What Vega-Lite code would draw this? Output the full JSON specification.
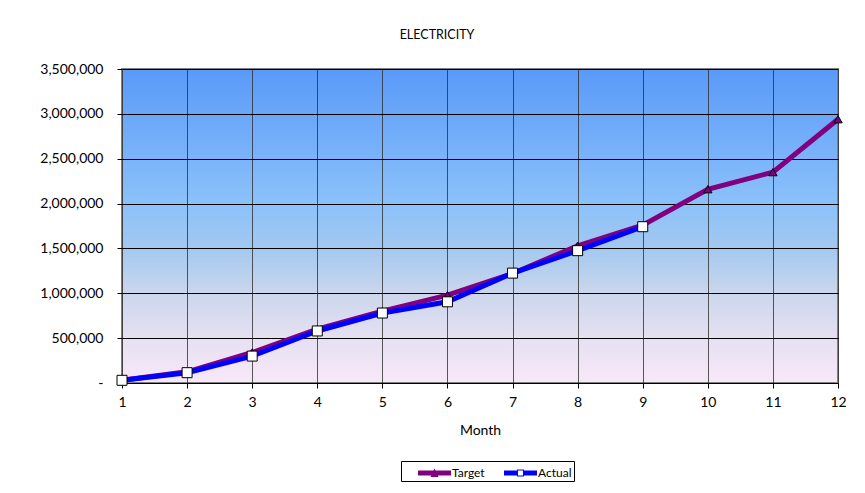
{
  "$schema": "https://vega.github.io/schema/vega-lite/v6.json",
  "autosize": "none",
  "width": 716,
  "height": 314,
  "padding": {"left": 122, "top": 69, "right": 27, "bottom": 110},
  "background": "white",
  "title": {"text": "ELECTRICITY", "font": "Lato", "fontSize": 12.5, "fontWeight": "normal", "color": "black", "dx": -43, "offset": 21},
  "config": {
    "font": "Lato",
    "view": {
      "stroke": "#808080",
      "strokeWidth": 2,
      "fill": {"gradient": "linear", "x1": 0, "y1": 0, "x2": 0, "y2": 1, "stops": [
        {"offset": 0, "color": "#5A9AF8"},
        {"offset": 0.43, "color": "#8BC1FA"},
        {"offset": 0.57, "color": "#A3C8F0"},
        {"offset": 0.71, "color": "#CAD6EC"},
        {"offset": 0.857, "color": "#E6E0F2"},
        {"offset": 1, "color": "#F8E8F8"}
      ]}
    },
    "axis": {"labelFont": "Lato", "labelFontSize": 14, "labelColor": "black", "titleFont": "Lato", "titleFontSize": 14, "titleFontWeight": "normal", "titleColor": "black", "domain": false, "tickColor": "black", "tickSize": 5, "labelFlush": false}
  },
  "data": {"values": [
    {"month": 1, "series": "Target", "value": 30000},
    {"month": 2, "series": "Target", "value": 125000},
    {"month": 3, "series": "Target", "value": 340000},
    {"month": 4, "series": "Target", "value": 600000},
    {"month": 5, "series": "Target", "value": 800000},
    {"month": 6, "series": "Target", "value": 980000},
    {"month": 7, "series": "Target", "value": 1220000},
    {"month": 8, "series": "Target", "value": 1530000},
    {"month": 9, "series": "Target", "value": 1760000},
    {"month": 10, "series": "Target", "value": 2160000},
    {"month": 11, "series": "Target", "value": 2350000},
    {"month": 12, "series": "Target", "value": 2940000},
    {"month": 1, "series": "Actual", "value": 30000},
    {"month": 2, "series": "Actual", "value": 115000},
    {"month": 3, "series": "Actual", "value": 300000},
    {"month": 4, "series": "Actual", "value": 580000},
    {"month": 5, "series": "Actual", "value": 780000},
    {"month": 6, "series": "Actual", "value": 905000},
    {"month": 7, "series": "Actual", "value": 1225000},
    {"month": 8, "series": "Actual", "value": 1475000},
    {"month": 9, "series": "Actual", "value": 1742000}
  ]},
  "encoding": {
    "x": {"field": "month", "type": "quantitative", "title": "Month",
      "scale": {"domain": [1, 12], "nice": false},
      "axis": {"values": [1,2,3,4,5,6,7,8,9,10,11,12], "grid": true, "gridColor": "#303030", "gridOpacity": 0.8, "labelPadding": 7, "titlePadding": 14}},
    "y": {"field": "value", "type": "quantitative", "title": null,
      "scale": {"domain": [0, 3500000], "nice": false},
      "axis": {"values": [0,500000,1000000,1500000,2000000,2500000,3000000,3500000], "grid": true, "gridColor": "black", "gridOpacity": 1, "labelPadding": 14,
        "labelExpr": "datum.value === 0 ? '-' : format(datum.value, ',')"}},
    "color": {"field": "series", "type": "nominal",
      "scale": {"domain": ["Target", "Actual"], "range": ["#800080", "#0000FF"]},
      "legend": {"orient": "none", "legendX": 279, "legendY": 392, "direction": "horizontal", "title": null,
        "symbolType": "M0.5,-0.25H3.8V0.25H0.5Z", "symbolSize": 400, "symbolStrokeWidth": 0, "labelOffset": 29,
        "strokeColor": "black", "padding": 2, "labelFontSize": 12, "labelFont": "Lato", "columnPadding": 4, "fillColor": "white",
        "encode": {"symbols": {"update": {
          "shape": {"signal": "datum.value === 'Target' ? 'M0.5,-0.25H3.8V0.25H0.5Z M1.75,0.4L2.15,-0.45L2.55,0.4Z' : 'M0.5,-0.25H1.8V0.25H0.5Z M2.5,-0.25H3.8V0.25H2.5Z M1.8,-0.35H2.5V0.35H1.8Z M1.9,-0.25V0.25H2.4V-0.25Z'"},
          "fill": {"signal": "datum.value === 'Target' ? '#800080' : '#0000FF'"},
          "stroke": {"value": "transparent"},
          "strokeWidth": {"value": 0}
        }}}}}
  },
  "layer": [
    {"transform": [{"filter": "datum.series === 'Target'"}], "mark": {"type": "line", "strokeWidth": 5}},
    {"transform": [{"filter": "datum.series === 'Target'"}], "mark": {"type": "point", "shape": "triangle-up", "filled": true, "size": 70, "stroke": "black", "strokeWidth": 1, "fill": "#800080", "opacity": 1}},
    {"transform": [{"filter": "datum.series === 'Actual'"}], "mark": {"type": "line", "strokeWidth": 5}},
    {"transform": [{"filter": "datum.series === 'Actual'"}], "mark": {"type": "point", "shape": "square", "filled": true, "size": 100, "stroke": "black", "strokeWidth": 1, "fill": "white", "opacity": 1}}
  ]
}
